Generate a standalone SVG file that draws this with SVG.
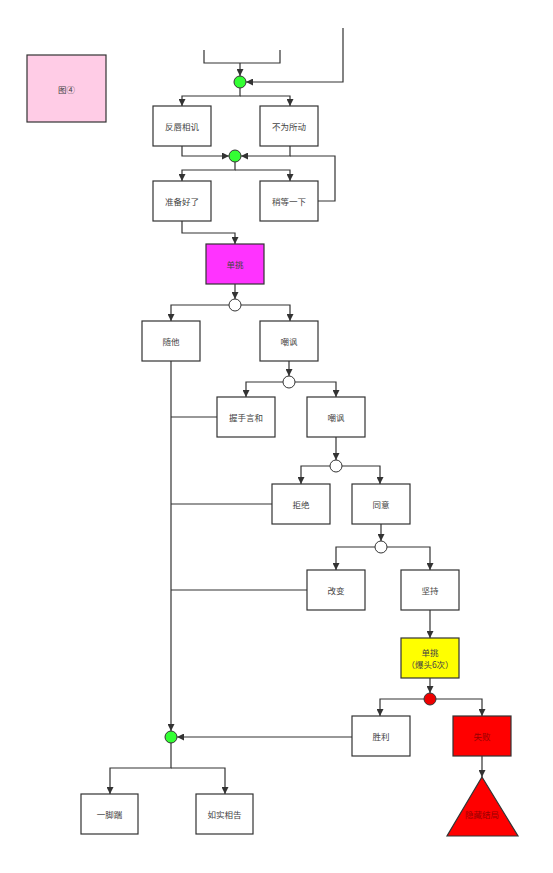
<svg xmlns="http://www.w3.org/2000/svg" width="553" height="873" viewBox="0 0 553 873">
<style>
.n rect,.n polygon{stroke:#333;stroke-width:1.2}
.w{fill:#fff}
.t{font-family:"Noto Sans CJK SC","Liberation Sans",sans-serif;font-size:8.5px;fill:#444;text-anchor:middle;dominant-baseline:central}
.c path{fill:none;stroke:#333;stroke-width:1.2}
.dot{stroke:#333;stroke-width:1}
</style>
<defs>
<marker id="a" viewBox="0 0 10 10" refX="10" refY="5" markerWidth="7" markerHeight="7" orient="auto" markerUnits="userSpaceOnUse">
<path d="M0,0 L10,5 L0,10 z" fill="#333"/>
</marker>
</defs>
<rect width="553" height="873" fill="#fff"/>
<g class="c">
<path d="M204,50 V63 H280 V50"/>
<path d="M240,63 V76" marker-end="url(#a)"/>
<path d="M343,28 V82 H246" marker-end="url(#a)"/>
<path d="M240,88 V96 H182 V106" marker-end="url(#a)"/>
<path d="M240,96 H290 V106" marker-end="url(#a)"/>
<path d="M182,146 V156 H229" marker-end="url(#a)"/>
<path d="M290,146 V156 H241" marker-end="url(#a)"/>
<path d="M318,201 H335 V156 H290"/>
<path d="M235,162 V170 H182 V181" marker-end="url(#a)"/>
<path d="M235,170 H290 V181" marker-end="url(#a)"/>
<path d="M182,221 V233 H235 V244" marker-end="url(#a)"/>
<path d="M235,284 V299" marker-end="url(#a)"/>
<path d="M229,305 H171 V321" marker-end="url(#a)"/>
<path d="M241,305 H290 V321" marker-end="url(#a)"/>
<path d="M289,361 V376" marker-end="url(#a)"/>
<path d="M283,382 H246 V397" marker-end="url(#a)"/>
<path d="M295,382 H336 V397" marker-end="url(#a)"/>
<path d="M217,417 H171"/>
<path d="M336,437 V460" marker-end="url(#a)"/>
<path d="M330,466 H301 V484" marker-end="url(#a)"/>
<path d="M342,466 H380 V484" marker-end="url(#a)"/>
<path d="M272,504 H171"/>
<path d="M381,524 V541" marker-end="url(#a)"/>
<path d="M375,547 H336 V570" marker-end="url(#a)"/>
<path d="M387,547 H430 V570" marker-end="url(#a)"/>
<path d="M307,590 H171"/>
<path d="M430,610 V638" marker-end="url(#a)"/>
<path d="M430,678 V693" marker-end="url(#a)"/>
<path d="M424,699 H380 V716" marker-end="url(#a)"/>
<path d="M436,699 H482 V716" marker-end="url(#a)"/>
<path d="M482,756 V777" marker-end="url(#a)"/>
<path d="M352,737 H177" marker-end="url(#a)"/>
<path d="M171,361 V731" marker-end="url(#a)"/>
<path d="M171,743 V768 H110 V794" marker-end="url(#a)"/>
<path d="M171,768 H225 V794" marker-end="url(#a)"/>
</g>
<g id="dots">
<circle class="dot" cx="240" cy="82" r="6" fill="#33ff33"/>
<circle class="dot" cx="235" cy="156" r="6" fill="#33ff33"/>
<circle class="dot" cx="235" cy="305" r="6" fill="#fff"/>
<circle class="dot" cx="289" cy="382" r="6" fill="#fff"/>
<circle class="dot" cx="336" cy="466" r="6" fill="#fff"/>
<circle class="dot" cx="381" cy="547" r="6" fill="#fff"/>
<circle class="dot" cx="430" cy="699" r="6" fill="#ee0000"/>
<circle class="dot" cx="171" cy="737" r="6" fill="#33ff33"/>
</g>
<g id="n0" class="n"><rect x="27" y="55" width="79" height="67" fill="#ffcce6"/><text class="t" x="66.5" y="88.5">图④</text></g>
<g id="n1" class="n"><rect class="w" x="153" y="106" width="58" height="40"/><text class="t" x="182" y="126">反唇相讥</text></g>
<g id="n2" class="n"><rect class="w" x="260" y="106" width="58" height="40"/><text class="t" x="289" y="126">不为所动</text></g>
<g id="n3" class="n"><rect class="w" x="153" y="181" width="58" height="40"/><text class="t" x="182" y="201">准备好了</text></g>
<g id="n4" class="n"><rect class="w" x="260" y="181" width="58" height="40"/><text class="t" x="289" y="201">稍等一下</text></g>
<g id="n5" class="n"><rect x="206" y="244" width="58" height="40" fill="#ff33ff"/><text class="t" x="235" y="264">单挑</text></g>
<g id="n6" class="n"><rect class="w" x="142" y="321" width="58" height="40"/><text class="t" x="171" y="341">随他</text></g>
<g id="n7" class="n"><rect class="w" x="260" y="321" width="58" height="40"/><text class="t" x="289" y="341">嘲讽</text></g>
<g id="n8" class="n"><rect class="w" x="217" y="397" width="58" height="40"/><text class="t" x="246" y="417">握手言和</text></g>
<g id="n9" class="n"><rect class="w" x="307" y="397" width="58" height="40"/><text class="t" x="336" y="417">嘲讽</text></g>
<g id="n10" class="n"><rect class="w" x="272" y="484" width="58" height="40"/><text class="t" x="301" y="504">拒绝</text></g>
<g id="n11" class="n"><rect class="w" x="352" y="484" width="58" height="40"/><text class="t" x="381" y="504">同意</text></g>
<g id="n12" class="n"><rect class="w" x="307" y="570" width="58" height="40"/><text class="t" x="336" y="590">改变</text></g>
<g id="n13" class="n"><rect class="w" x="401" y="570" width="58" height="40"/><text class="t" x="430" y="590">坚持</text></g>
<g id="n14" class="n"><rect x="401" y="638" width="58" height="40" fill="#ffff00"/><text class="t" x="430" y="652">单挑</text><text class="t" x="430" y="664">（爆头6次）</text></g>
<g id="n15" class="n"><rect class="w" x="352" y="716" width="58" height="40"/><text class="t" x="381" y="736">胜利</text></g>
<g id="n16" class="n"><rect x="453" y="716" width="58" height="40" fill="#ff0000"/><text class="t" x="482" y="736" style="fill:#990000">失败</text></g>
<g id="n17" class="n"><polygon points="482,777 518,836 447,836" fill="#ff0000"/><text class="t" x="482" y="814" style="fill:#990000">隐藏结局</text></g>
<g id="n18" class="n"><rect class="w" x="81" y="794" width="57" height="40"/><text class="t" x="109.5" y="814">一脚踹</text></g>
<g id="n19" class="n"><rect class="w" x="196" y="794" width="57" height="40"/><text class="t" x="224.5" y="814">如实相告</text></g>
</svg>
